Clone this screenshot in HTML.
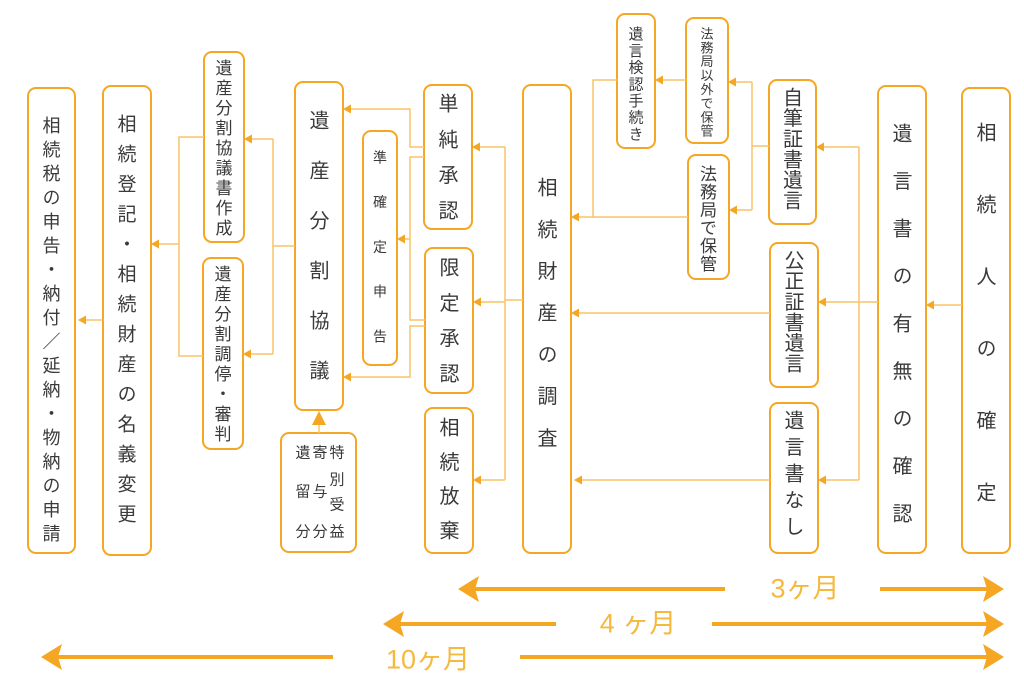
<!DOCTYPE html>
<html><head><meta charset="utf-8"><style>
body{margin:0;width:1024px;height:693px;background:#fff;position:relative;overflow:hidden;font-family:"Liberation Sans","Noto Sans CJK JP",sans-serif;}
svg{position:absolute;left:0;top:0}
.v{position:absolute;writing-mode:vertical-rl;text-orientation:upright;line-height:1;color:#3a3a3a;white-space:nowrap;font-family:"Noto Sans CJK JP",sans-serif}
.c{position:absolute;line-height:1;color:#3a3a3a;font-size:15px;transform:translate(-50%,-50%)}
.m{position:absolute;color:#f5b93e;font-size:27px;line-height:1;transform:translate(-50%,-50%)}
</style></head><body>
<svg width="1024" height="693">
<g fill="none" stroke="#f5a623" stroke-width="2">
<rect x="28" y="88" width="47" height="465" rx="8"/>
<rect x="103" y="86" width="48" height="469" rx="8"/>
<rect x="204" y="52" width="40" height="190" rx="8"/>
<rect x="203" y="258" width="40" height="191" rx="8"/>
<rect x="295" y="82" width="48" height="328" rx="8"/>
<rect x="363" y="131" width="34" height="234" rx="8"/>
<rect x="424" y="85" width="48" height="144" rx="8"/>
<rect x="425" y="248" width="48" height="145" rx="8"/>
<rect x="425" y="408" width="48" height="145" rx="8"/>
<rect x="281" y="433" width="75" height="119" rx="8"/>
<rect x="523" y="85" width="48" height="468" rx="8"/>
<rect x="617" y="14" width="38" height="134" rx="8"/>
<rect x="686" y="18" width="42" height="125" rx="8"/>
<rect x="688" y="155" width="41" height="124" rx="8"/>
<rect x="769" y="80" width="47" height="144" rx="8"/>
<rect x="770" y="243" width="48" height="144" rx="8"/>
<rect x="770" y="403" width="48" height="150" rx="8"/>
<rect x="878" y="86" width="48" height="467" rx="8"/>
<rect x="962" y="88" width="48" height="465" rx="8"/>
</g>
<g fill="none" stroke="#f9c46a" stroke-width="1.5">
<path d="M962 305H930"/>
<path d="M878 302H859M859 147V480M859 147H820M859 302H822M859 480H822"/>
<path d="M769 146H752M752 82V210M752 82H732M752 210H733"/>
<path d="M686 80H659"/>
<path d="M617 80H593V217M688 217H575"/>
<path d="M770 313H575"/>
<path d="M770 480H578"/>
<path d="M523 300H505M505 147V480M505 147H476M505 302H477M505 480H477"/>
<path d="M424 147H410V109H347"/>
<path d="M424 157H410V320H425M410 239H401"/>
<path d="M425 326H410V377H347"/>
<path d="M295 246H273M273 139V354M273 139H248M273 354H247"/>
<path d="M204 137H179V356H203M179 244H155"/>
<path d="M103 320H82"/>
<path d="M319 433V424"/>
</g>
<g fill="#f5a623">
<polygon points="926,305 934,300.5 934,309.5"/>
<polygon points="816,147 824,142.5 824,151.5"/>
<polygon points="818,302 826,297.5 826,306.5"/>
<polygon points="818,480 826,475.5 826,484.5"/>
<polygon points="728,82 736,77.5 736,86.5"/>
<polygon points="729,210 737,205.5 737,214.5"/>
<polygon points="655,80 663,75.5 663,84.5"/>
<polygon points="571,217 579,212.5 579,221.5"/>
<polygon points="571,313 579,308.5 579,317.5"/>
<polygon points="574,480 582,475.5 582,484.5"/>
<polygon points="472,147 480,142.5 480,151.5"/>
<polygon points="473,302 481,297.5 481,306.5"/>
<polygon points="473,480 481,475.5 481,484.5"/>
<polygon points="343,109 351,104.5 351,113.5"/>
<polygon points="397,239 405,234.5 405,243.5"/>
<polygon points="343,377 351,372.5 351,381.5"/>
<polygon points="244,139 252,134.5 252,143.5"/>
<polygon points="243,354 251,349.5 251,358.5"/>
<polygon points="151,244 159,239.5 159,248.5"/>
<polygon points="78,320 86,315.5 86,324.5"/>
<polygon points="319,411 312,425 326,425"/>
</g>
<g stroke="#f5a623" stroke-width="4" fill="none">
<path d="M462 589H725M880 589H996"/>
<path d="M387 624H556M712 624H996"/>
<path d="M47 657H333M520 657H996"/>
</g>
<g fill="#f5a623">
<polygon points="458,589 479,576 475,589 479,602"/>
<polygon points="1004,589 983,576 987,589 983,602"/>
<polygon points="383,624 404,611 400,624 404,637"/>
<polygon points="1004,624 983,611 987,624 983,637"/>
<polygon points="41,657 62,644 58,657 62,670"/>
<polygon points="1004,657 983,644 987,657 983,670"/>
</g>
</svg>
<div class="v" style="left:42.5px;top:116px;font-size:18px;letter-spacing:6px">相続税の申告・納付／延納・物納の申請</div>
<div class="v" style="left:117.5px;top:113.5px;font-size:19px;letter-spacing:11px">相続登記・相続財産の名義変更</div>
<div class="v" style="left:215.5px;top:58.5px;font-size:17px;letter-spacing:3px">遺産分割協議書作成</div>
<div class="v" style="left:214.5px;top:264.5px;font-size:17px;letter-spacing:3px">遺産分割調停・審判</div>
<div class="v" style="left:309px;top:110px;font-size:20px;letter-spacing:30px">遺産分割協議</div>
<div class="v" style="left:373px;top:150px;font-size:14px;letter-spacing:30.75px">準確定申告</div>
<div class="v" style="left:438px;top:93px;font-size:20px;letter-spacing:15.7px">単純承認</div>
<div class="v" style="left:439px;top:257px;font-size:20px;letter-spacing:15.3px">限定承認</div>
<div class="v" style="left:439px;top:417px;font-size:20px;letter-spacing:14.3px">相続放棄</div>
<div class="v" style="left:537px;top:177px;font-size:20px;letter-spacing:21.7px">相続財産の調査</div>
<div class="v" style="left:628.5px;top:25.5px;font-size:15px;letter-spacing:1.7px">遺言検認手続き</div>
<div class="v" style="left:700.5px;top:26.5px;font-size:13px;letter-spacing:0.9px">法務局以外で保管</div>
<div class="v" style="left:700px;top:164.5px;font-size:17px;letter-spacing:1px">法務局で保管</div>
<div class="v" style="left:782.5px;top:87px;font-size:20px;letter-spacing:0.6px">自筆証書遺言</div>
<div class="v" style="left:784px;top:250px;font-size:20px;letter-spacing:0.6px">公正証書遺言</div>
<div class="v" style="left:784px;top:410px;font-size:20px;letter-spacing:6.5px">遺言書なし</div>
<div class="v" style="left:892px;top:123px;font-size:20px;letter-spacing:27.5px">遺言書の有無の確認</div>
<div class="v" style="left:976px;top:122px;font-size:20px;letter-spacing:52px">相続人の確定</div>
<div class="c" style="left:303px;top:453px">遺</div>
<div class="c" style="left:320px;top:453px">寄</div>
<div class="c" style="left:337px;top:453px">特</div>
<div class="c" style="left:337px;top:480px">別</div>
<div class="c" style="left:303px;top:492px">留</div>
<div class="c" style="left:320px;top:492px">与</div>
<div class="c" style="left:337px;top:505px">受</div>
<div class="c" style="left:303px;top:532px">分</div>
<div class="c" style="left:320px;top:532px">分</div>
<div class="c" style="left:337px;top:532px">益</div>
<div class="m" style="left:805px;top:589px">3ヶ月</div>
<div class="m" style="left:638px;top:624px">4 ヶ月</div>
<div class="m" style="left:428px;top:660px">10ヶ月</div>
</body></html>
